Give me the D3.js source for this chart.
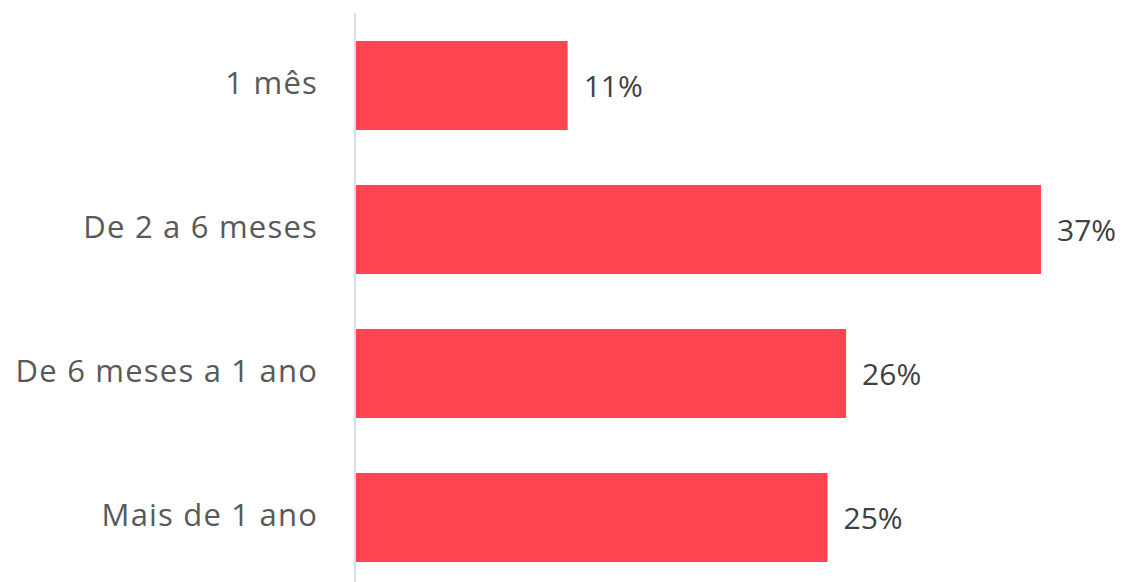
<!DOCTYPE html>
<html><head><meta charset="utf-8">
<script src="https://cdn.jsdelivr.net/npm/d3@7"></script>
<style>html,body{margin:0;padding:0;background:#fff;}</style>
</head><body>
<svg id="chart" width="1122" height="582"></svg>
<script>
const categories = ["1 mês", "De 2 a 6 meses", "De 6 meses a 1 ano", "Mais de 1 ano"];
const values = [11.4, 36.9, 26.4, 25.4];
const valueLabels = ["11%", "37%", "26%", "25%"];

const svg = d3.select("#chart");
const x0 = 356;
const x = d3.scaleLinear().domain([0, 36.9]).range([x0, 1041]);
const y = d3.scaleBand().domain(categories).range([12.2, 590.8]).paddingInner(0.382).paddingOuter(0.2);
const font = "'Open Sans', sans-serif";

svg.append("line").attr("x1", 355).attr("x2", 355).attr("y1", 13).attr("y2", 582)
  .attr("stroke", "#dcdcdc").attr("stroke-width", 2);

svg.selectAll("rect.bar").data(values).enter().append("rect")
  .attr("class", "bar")
  .attr("x", x(0)).attr("y", (d, i) => y(categories[i]))
  .attr("width", d => x(d) - x(0)).attr("height", y.bandwidth())
  .attr("fill", "#FF4350");

svg.selectAll("text.cat").data(categories).enter().append("text")
  .attr("class", "cat")
  .attr("x", 318).attr("y", d => y(d) + y.bandwidth() / 2 - 2)
  .attr("dy", "0.35em").attr("text-anchor", "end")
  .attr("font-family", font).attr("font-size", 31).attr("letter-spacing", 1.2).attr("fill", "#595959")
  .text(d => d);

svg.selectAll("text.val").data(values).enter().append("text")
  .attr("class", "val")
  .attr("x", d => x(d) + 16).attr("y", (d, i) => y(categories[i]) + y.bandwidth() / 2 + 1)
  .attr("dy", "0.35em")
  .attr("font-family", font).attr("font-size", 30).attr("fill", "#404040")
  .text((d, i) => valueLabels[i]);
</script>
</body></html>
